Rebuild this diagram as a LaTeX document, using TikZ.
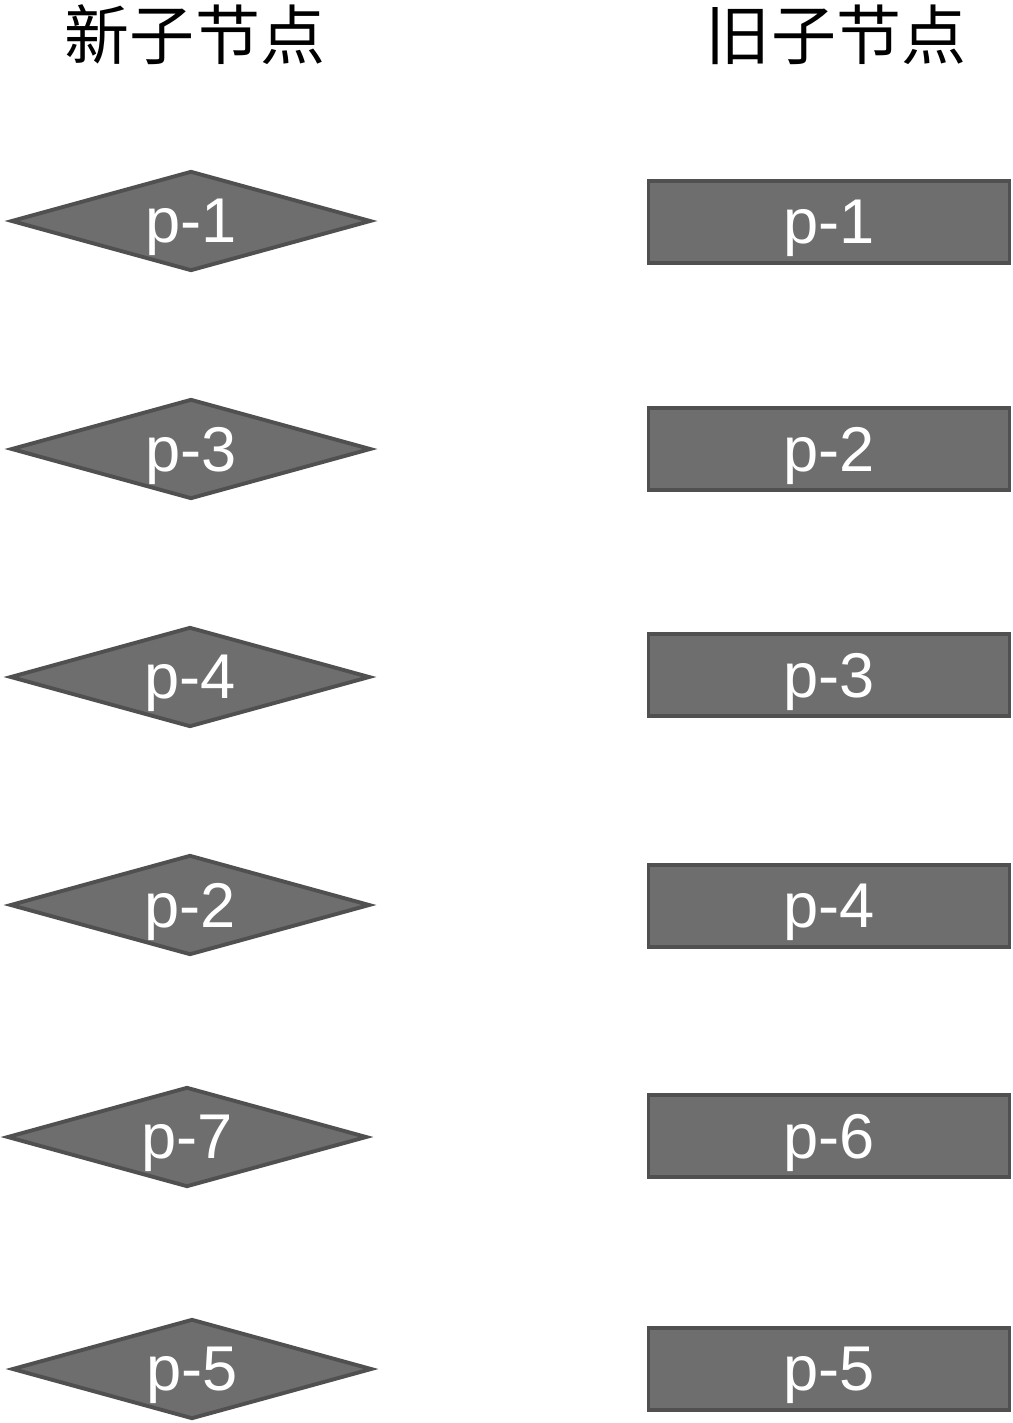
\documentclass[tikz,border=0pt]{standalone}
\usepackage{fontspec}
\setmainfont{Liberation Sans}
\newfontfamily\cjk{Noto Sans CJK SC}
\usetikzlibrary{shapes.geometric}

\definecolor{nodefill}{RGB}{110,110,110}
\definecolor{nodeline}{RGB}{80,80,80}

\begin{document}
\begin{tikzpicture}
[x=0.02cm,y=-0.02cm,%
  newnode/.style={shape=diamond,aspect=3.6,draw=nodeline,fill=nodefill,line width=2.2pt,
    inner sep=0pt,minimum width=7.2cm,minimum height=2cm,text=white,text depth=0pt},%
  oldnode/.style={shape=rectangle,draw=nodeline,fill=nodefill,line width=2.2pt,
    inner sep=0pt,minimum width=7.22cm,minimum height=1.64cm,text=white,text depth=0pt},%
  title/.style={font=\cjk\fontsize{37}{40}\selectfont}]
\useasboundingbox (0,0) rectangle (1012,1423);
\fontsize{36}{40}\selectfont
% titles
\node[title] (tnew) at (195,35) {新子节点};
\node[title] (told) at (836,35) {旧子节点};
% new children
\node[newnode] (n1) at (191,221) {p-1};
\node[newnode] (n3) at (191,449) {p-3};
\node[newnode] (n4) at (190,677) {p-4};
\node[newnode] (n2) at (190,905) {p-2};
\node[newnode] (n7) at (187,1137) {p-7};
\node[newnode] (n5) at (192,1369) {p-5};
% old children
\node[oldnode] (o1) at (829,222) {p-1};
\node[oldnode] (o2) at (829,449) {p-2};
\node[oldnode] (o3) at (829,675) {p-3};
\node[oldnode] (o4) at (829,906) {p-4};
\node[oldnode] (o6) at (829,1136) {p-6};
\node[oldnode] (o5) at (829,1369) {p-5};
\end{tikzpicture}
\end{document}
